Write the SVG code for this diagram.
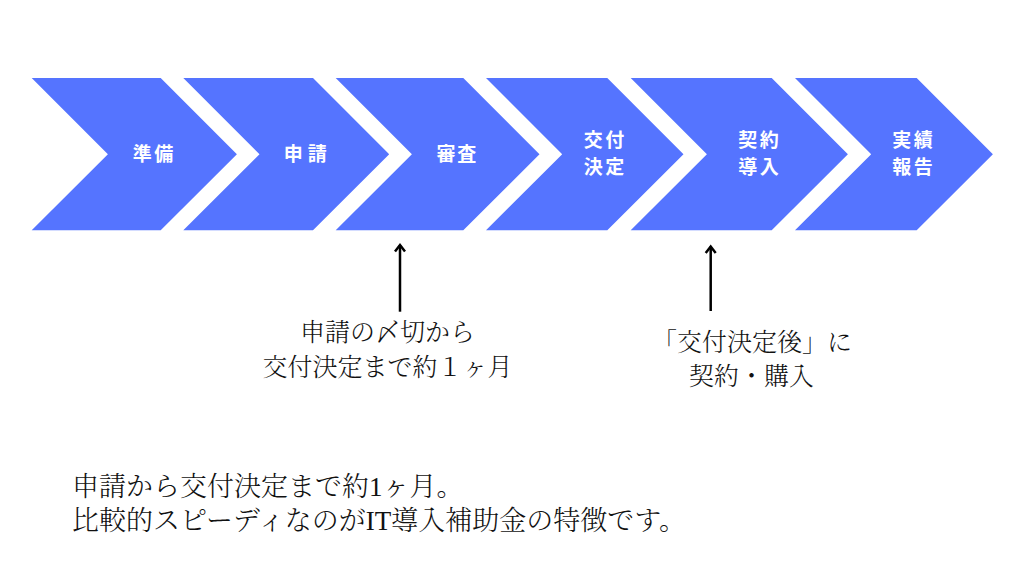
<svg xmlns="http://www.w3.org/2000/svg" width="1024" height="576" viewBox="0 0 1024 576">
<style>
.chev{fill:#5574FF;}
.lbl{font-family:"Noto Sans CJK JP","Noto Sans",sans-serif;font-weight:700;font-size:19px;fill:#FFFFFF;text-anchor:middle;letter-spacing:2.5px;}
.note{font-family:"Liberation Serif","Noto Serif CJK JP","Noto Sans CJK JP",serif;font-weight:300;font-size:25px;fill:#111111;text-anchor:middle;}
.body{font-family:"Liberation Serif","Noto Serif CJK JP","Noto Sans CJK JP",serif;font-weight:300;font-size:27px;fill:#111111;}
.conn{stroke:#000000;stroke-width:2.5;fill:none;}
.head{stroke:#000000;stroke-width:2.5;fill:none;stroke-linejoin:miter;stroke-linecap:butt;}
</style>
<rect x="0" y="0" width="1024" height="576" fill="#FFFFFF"/>
<g id="node-junbi">
<polygon class="chev" points="31.7,78 160.7,78 236.9,154.2 160.7,230.3 31.7,230.3 107.9,154.2"/>
<text class="lbl" x="154.2" y="160.5">準備</text>
</g>
<g id="node-shinsei">
<polygon class="chev" points="183.3,78 313,78 389.2,154.2 313,230.3 183.3,230.3 259.5,154.2"/>
<text class="lbl" x="307.8" y="160.5" style="letter-spacing:5px">申請</text>
</g>
<g id="node-shinsa">
<polygon class="chev" points="335.7,78 463.3,78 539.5,154.2 463.3,230.3 335.7,230.3 411.9,154.2"/>
<text class="lbl" x="457.3" y="160.5" style="letter-spacing:1.8px">審査</text>
</g>
<g id="node-kofu">
<polygon class="chev" points="486,78 607.3,78 683.5,154.2 607.3,230.3 486,230.3 562.2,154.2"/>
<text class="lbl" x="605.2" y="147.2">交付</text>
<text class="lbl" x="605.2" y="174.2">決定</text>
</g>
<g id="node-keiyaku">
<polygon class="chev" points="630.7,78 771.7,78 847.9,154.2 771.7,230.3 630.7,230.3 706.9,154.2"/>
<text class="lbl" x="759.8" y="147.2">契約</text>
<text class="lbl" x="759.8" y="174.2">導入</text>
</g>
<g id="node-jisseki">
<polygon class="chev" points="795,78 916.7,78 992.9,154.2 916.7,230.3 795,230.3 871.2,154.2"/>
<text class="lbl" x="913.8" y="147.2">実績</text>
<text class="lbl" x="913.8" y="174.2">報告</text>
</g>
<g id="connectors">
<line class="conn" x1="400" y1="311.7" x2="400" y2="245"/>
<polyline class="head" points="395,251.5 400,245 405,251.5"/>
<line class="conn" x1="710.7" y1="311" x2="710.7" y2="246.5"/>
<polyline class="head" points="705.7,253 710.7,246.5 715.7,253"/>
</g>
<g id="note-shinsa">
<text class="note" x="387.5" y="341">申請の〆切から</text>
<text class="note" x="387.5" y="375.5">交付決定まで約１ヶ月</text>
</g>
<g id="note-keiyaku">
<text class="note" x="752" y="351">「交付決定後」に</text>
<text class="note" x="751.5" y="385">契約・購入</text>
</g>
<g id="summary">
<text class="body" x="72" y="496">申請から交付決定まで約1ヶ月。</text>
<text class="body" x="72" y="529.5">比較的スピーディなのがIT導入補助金の特徴です。</text>
</g>
</svg>
